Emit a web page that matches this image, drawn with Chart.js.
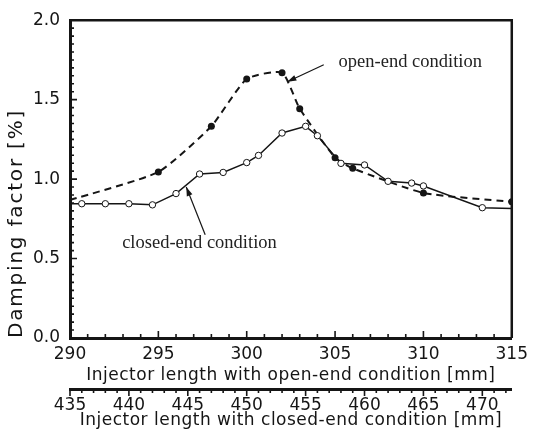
<!DOCTYPE html>
<html><head><meta charset="utf-8">
<script src="https://cdn.jsdelivr.net/npm/chart.js@4.4.1/dist/chart.umd.min.js"></script>
<style>html,body{margin:0;padding:0;background:#fff;overflow:hidden}canvas{display:block}</style>
</head><body>
<canvas id="c" width="534" height="431"></canvas>
<script>
// ---- data ----
// open-end condition: injector length on the open-end axis [mm]
const openLength  = [290, 295, 298, 300, 302, 303, 305, 306, 310, 315];
const openDamping = [0.868, 1.045, 1.333, 1.63, 1.67, 1.443, 1.135, 1.068, 0.913, 0.857];
// closed-end condition: injector length on the closed-end axis [mm]
const closedLength  = [435, 436, 438, 440, 442, 444, 446, 448, 450, 451, 453, 455, 456, 458, 460, 462, 464, 465, 470, 472.5];
const closedDamping = [0.845, 0.845, 0.845, 0.845, 0.838, 0.909, 1.032, 1.042, 1.104, 1.149, 1.29, 1.332, 1.273, 1.099, 1.089, 0.986, 0.975, 0.957, 0.82, 0.815];
// tick labels
const openTicks    = [290, 295, 300, 305, 310, 315];
const closedTicks  = [435, 440, 445, 450, 455, 460, 465, 470];
const dampingTicks = [0.0, 0.5, 1.0, 1.5, 2.0];
// texts
const yTitle  = 'Damping factor [%]';
const xTitle  = 'Injector length with open-end condition [mm]';
const x2Title = 'Injector length with closed-end condition [mm]';
// annotations (data units on open-end axis / damping axis)
const notes = [
  {text: 'open-end condition',   at: [305.2, 1.708], tail: [304.36, 1.72], tip: [302.3, 1.613]},
  {text: 'closed-end condition', at: [292.95, 0.565], tail: [297.65, 0.65], tip: [296.58, 0.95]}
];

const INK = '#151515';
const tickFont = {family: 'DejaVu Sans', size: 17};

const frameTicks = {
  id: 'frameTicks',
  beforeDraw(chart) {
    const sp = {x: '0.5px', x2: '0.5px', y: '1.8px'};
    for (const id in sp) {
      const s = chart.scales[id];
      if (!s || s._wrapped) continue;
      const orig = s.drawTitle;
      s.drawTitle = function () { const c = this.ctx; c.save(); c.letterSpacing = sp[id]; orig.call(this); c.restore(); };
      s._wrapped = true;
    }
  },
  afterDraw(chart) {
    const {ctx, chartArea: a, scales} = chart;
    ctx.save();
    ctx.strokeStyle = INK;
    ctx.lineWidth = 2.5;
    ctx.beginPath();
    ctx.moveTo(a.left, a.top); ctx.lineTo(a.right, a.top); ctx.lineTo(a.right, a.bottom);
    ctx.stroke();
    ctx.lineWidth = 1.6;
    ctx.beginPath();
    for (let i = 0; i <= 40; i++) {
      const v = i * 0.05, py = scales.y.getPixelForValue(v);
      const len = (i % 10 === 0) ? 7 : 4;
      ctx.moveTo(a.left, py); ctx.lineTo(a.left + len, py);
    }
    for (let v = 290; v <= 315; v++) {
      const px = scales.x.getPixelForValue(v);
      const len = (v % 5 === 0) ? 7 : 4;
      ctx.moveTo(px, a.bottom); ctx.lineTo(px, a.bottom - len);
    }
    const s2 = scales.x2;
    for (let v = 435; v <= 472; v++) {
      const px = s2.getPixelForValue(v);
      const len = (v % 5 === 0) ? 7 : 4;
      ctx.moveTo(px, s2.top); ctx.lineTo(px, s2.top + len);
    }
    ctx.stroke();
    ctx.restore();
  },
  afterDatasetsDraw(chart) {
    const {ctx, scales} = chart;
    const X = v => scales.x.getPixelForValue(v), Y = v => scales.y.getPixelForValue(v);
    ctx.save();
    ctx.strokeStyle = INK; ctx.fillStyle = INK; ctx.lineWidth = 1.2;
    for (const n of notes) {
      const x1 = X(n.tail[0]), y1 = Y(n.tail[1]), x2 = X(n.tip[0]), y2 = Y(n.tip[1]);
      ctx.beginPath(); ctx.moveTo(x1, y1); ctx.lineTo(x2, y2); ctx.stroke();
      const ang = Math.atan2(y2 - y1, x2 - x1), L = 9, W = 3;
      ctx.beginPath();
      ctx.moveTo(x2, y2);
      ctx.lineTo(x2 - L * Math.cos(ang) + W * Math.sin(ang), y2 - L * Math.sin(ang) - W * Math.cos(ang));
      ctx.lineTo(x2 - L * Math.cos(ang) - W * Math.sin(ang), y2 - L * Math.sin(ang) + W * Math.cos(ang));
      ctx.closePath(); ctx.fill();
      ctx.font = '18.5px "Liberation Serif"';
      ctx.textAlign = 'left'; ctx.textBaseline = 'alphabetic';
      ctx.fillStyle = '#222';
      ctx.fillText(n.text, X(n.at[0]), Y(n.at[1]));
      ctx.fillStyle = INK;
    }
    ctx.restore();
  }
};

new Chart(document.getElementById('c'), {
  type: 'line',
  data: {
    datasets: [
      {
        label: 'closed-end condition',
        data: closedLength.map((x, i) => ({x, y: closedDamping[i]})),
        xAxisID: 'x2', yAxisID: 'y',
        borderColor: INK, borderWidth: 1.5, tension: 0,
        pointRadius: c => (c.dataIndex === 0 || c.dataIndex === closedLength.length - 1) ? 0 : 3.2,
        pointBackgroundColor: '#fff', pointBorderColor: INK, pointBorderWidth: 1
      },
      {
        label: 'open-end condition',
        data: openLength.map((x, i) => ({x, y: openDamping[i]})),
        xAxisID: 'x', yAxisID: 'y',
        borderColor: INK, borderWidth: 2, borderDash: [7, 5],
        tension: 0.18,
        pointRadius: c => c.dataIndex === 0 ? 0 : 3.5,
        pointBackgroundColor: INK, pointBorderColor: INK, pointBorderWidth: 0
      }
    ]
  },
  options: {
    responsive: false, animation: false,
    layout: {padding: {left: 0, top: 16, right: 17, bottom: 0}},
    plugins: {legend: {display: false}, tooltip: {enabled: false}},
    scales: {
      x: {
        type: 'linear', position: 'bottom', weight: 0, min: 290, max: 315,
        afterBuildTicks: s => { s.ticks = openTicks.map(v => ({value: v})); },
        afterFit: s => { s.height = 51; },
        grid: {display: false, drawTicks: false},
        border: {display: true, color: INK, width: 3},
        ticks: {font: tickFont, color: INK, padding: 6, maxRotation: 0, autoSkip: false},
        title: {display: true, text: xTitle, font: {family: 'DejaVu Sans', size: 17}, color: INK, padding: {top: 0, bottom: 3}}
      },
      x2: {
        type: 'linear', position: 'bottom', weight: 1, min: 435, max: 472.5,
        afterBuildTicks: s => { s.ticks = closedTicks.map(v => ({value: v})); },
        afterFit: s => { s.height = 42; },
        grid: {display: false, drawTicks: false},
        border: {display: true, color: INK, width: 3},
        ticks: {font: tickFont, color: INK, padding: 6, maxRotation: 0, autoSkip: false},
        title: {display: true, text: x2Title, font: {family: 'DejaVu Sans', size: 17}, color: INK, padding: {top: 0, bottom: 0}}
      },
      y: {
        type: 'linear', position: 'left', min: 0, max: 2,
        afterBuildTicks: s => { s.ticks = dampingTicks.map(v => ({value: v})); },
        afterFit: s => { s.width = 70; },
        grid: {display: false, drawTicks: false},
        border: {display: true, color: INK, width: 3},
        ticks: {font: tickFont, color: INK, padding: 10, callback: v => Number(v).toFixed(1)},
        title: {display: true, text: yTitle, align: 'start', font: {family: 'DejaVu Sans', size: 20}, color: INK, padding: {top: 4.4, bottom: 0}}
      }
    }
  },
  plugins: [frameTicks]
});
</script>
</body></html>
